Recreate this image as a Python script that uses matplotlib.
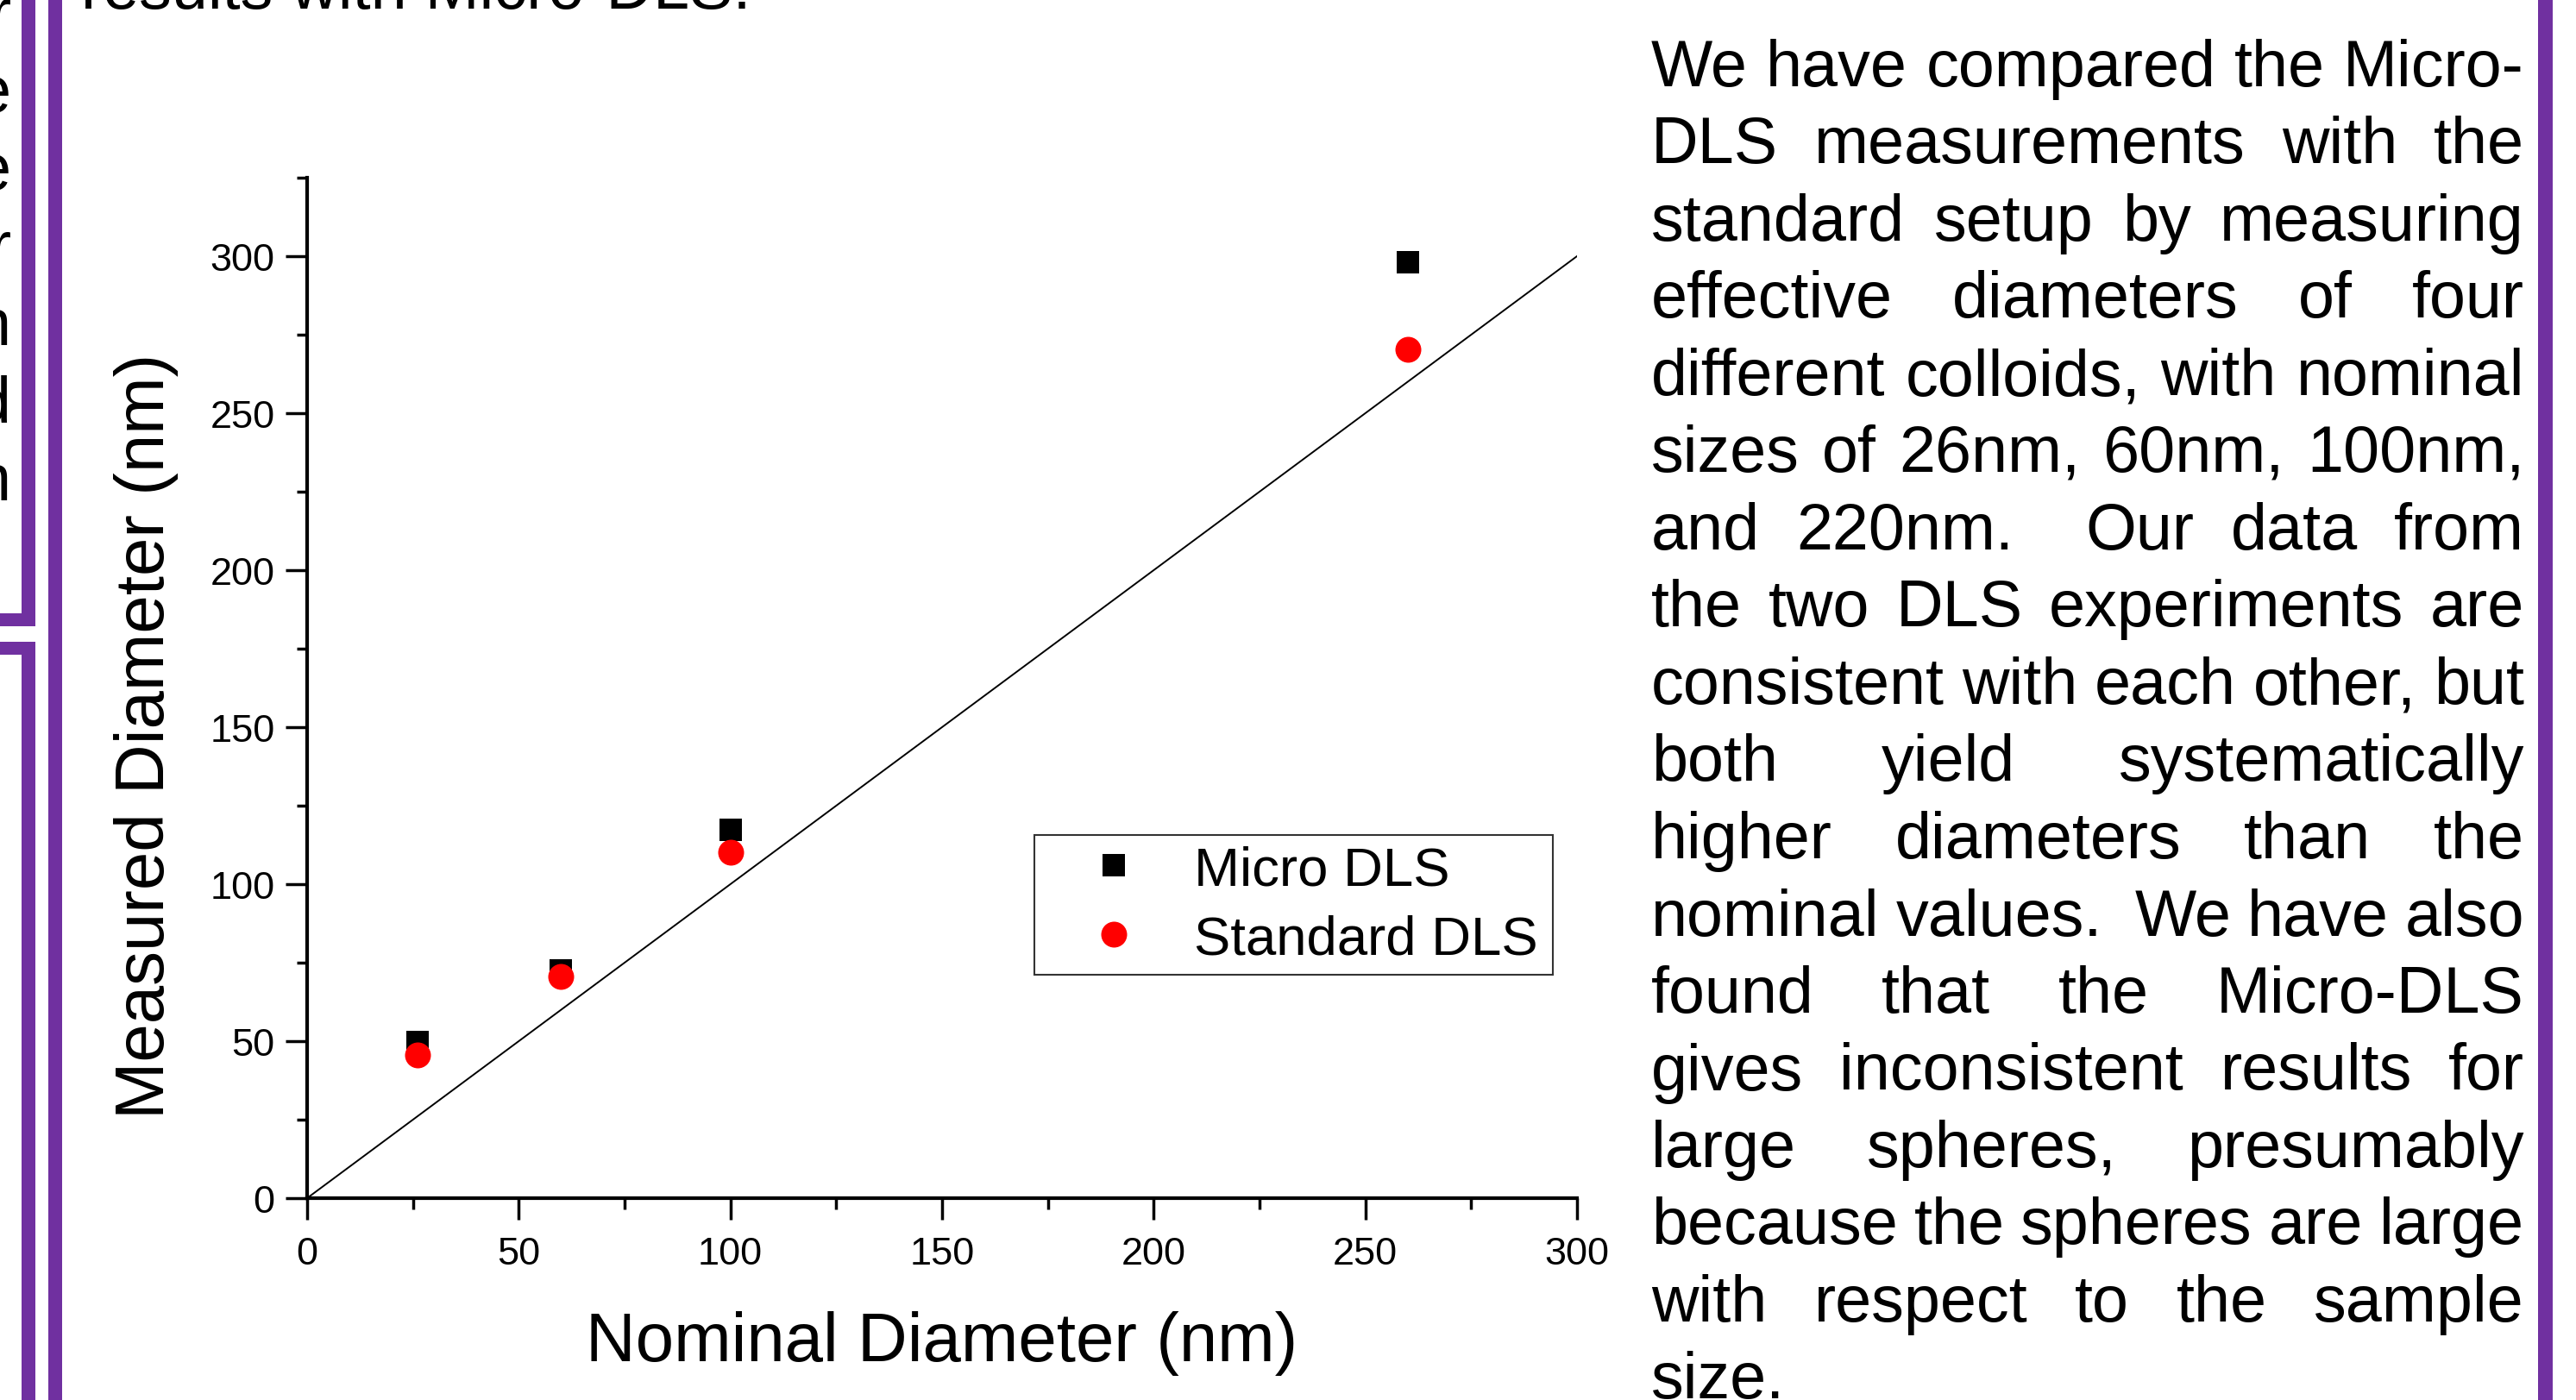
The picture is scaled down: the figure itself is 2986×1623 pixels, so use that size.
import re
import matplotlib
matplotlib.use('Agg')
import matplotlib.pyplot as plt
from matplotlib.patches import Rectangle
from matplotlib.ticker import MultipleLocator

plt.rcParams['font.family'] = ['Liberation Sans', 'DejaVu Sans']

# ---------------- data ----------------
nominal_diameter = [26, 60, 100, 260]
micro_dls = [49.6, 72.5, 117.2, 298.0]
standard_dls = [45.6, 70.6, 110.2, 270.3]
identity_x = [0, 300]
series_labels = ['Micro DLS', 'Standard DLS']
x_ticks = [0, 50, 100, 150, 200, 250, 300]
y_ticks = [0, 50, 100, 150, 200, 250, 300]
x_label = 'Nominal Diameter (nm)'
y_label = 'Measured Diameter (nm)'

paragraph_lines = [
    "We have compared the Micro-",
    "DLS measurements with the",
    "standard setup by measuring",
    "effective diameters of four",
    "different colloids, with nominal",
    "sizes of 26nm, 60nm, 100nm,",
    "and 220nm.  Our data from",
    "the two DLS experiments are",
    "consistent with each other, but",
    "both yield systematically",
    "higher diameters than the",
    "nominal values.  We have also",
    "found that the Micro-DLS",
    "gives inconsistent results for",
    "large spheres, presumably",
    "because the spheres are large",
    "with respect to the sample",
    "size.",
]
top_caption = "results with Micro-DLS."
left_column_tails = ["r", "e", "e", "r", "n", "d", "n"]

# ---------------- figure ----------------
W, H, DPI = 2986, 1624, 100
fig = plt.figure(figsize=(W / DPI, H / DPI), dpi=DPI)
fig.patch.set_facecolor('white')
PURPLE = '#7030A0'


def fx(x):
    return x / W


def fy(y):
    return 1 - y / H


def prect(x0, y0, x1, y1):
    fig.add_artist(Rectangle((fx(x0), fy(y1)), fx(x1) - fx(x0), fy(y0) - fy(y1),
                             transform=fig.transFigure, facecolor=PURPLE,
                             edgecolor='none', zorder=5))


# purple panel borders
prect(25, 0, 41, 727)
prect(0, 712, 41, 727)
prect(0, 745, 41, 760)
prect(25, 745, 41, H)
prect(56, 0, 72, H)
prect(2942, 0, 2959, H)

# axes
ax = fig.add_axes([fx(356), fy(1390), fx(1828) - fx(356), fy(207) - fy(1390)])
ax.plot(identity_x, identity_x, color='black', lw=1.4, zorder=2)
ax.plot(nominal_diameter, micro_dls, linestyle='none', marker='s', ms=18.5,
        mew=0, color='black', label=series_labels[0], zorder=3)
ax.plot(nominal_diameter, standard_dls, linestyle='none', marker='o', ms=21.6,
        mew=0, color='red', label=series_labels[1], zorder=4)

ax.set_xlim(0, 300)
ax.set_ylim(0, 325)
ax.spines['top'].set_visible(False)
ax.spines['right'].set_visible(False)
for s in ('left', 'bottom'):
    ax.spines[s].set_linewidth(3)
ax.set_xticks(x_ticks)
ax.set_yticks(y_ticks)
ax.xaxis.set_minor_locator(MultipleLocator(25))
ax.yaxis.set_minor_locator(MultipleLocator(25))
ax.tick_params(which='major', direction='out', length=18, width=2.5, labelsize=32.5)
ax.tick_params(which='minor', direction='out', length=9, width=2.5)
ax.tick_params(axis='y', which='major', pad=9)
ax.tick_params(axis='x', which='major', pad=14)
ax.set_xlabel(x_label, fontsize=57.5, labelpad=32)
ax.set_ylabel(y_label, fontsize=57.5, labelpad=26)
ax.yaxis.label.set_y(0.454)

leg = ax.legend(loc='upper left', bbox_to_anchor=(0.573, 0.219, 0.408, 0.137),
                mode='expand', borderaxespad=0, fontsize=45.7, frameon=True,
                fancybox=False, edgecolor='black', borderpad=0.18,
                handlelength=2.51, handletextpad=0.21, labelspacing=0.33,
                numpoints=1)
leg.get_frame().set_linewidth(1.5)

# ---------------- text ----------------
FS = 54.4
renderer = fig.canvas.get_renderer()


def width_of(s):
    t = fig.text(0, 0, s, fontsize=FS)
    w = t.get_window_extent(renderer).width
    t.remove()
    return w


left_x, right_x = 1914, 2926
base0, step = 100, 89.5
for i, line in enumerate(paragraph_lines):
    y = base0 + i * step
    if i == len(paragraph_lines) - 1:
        fig.text(fx(left_x), fy(y), line, fontsize=FS, va='baseline', ha='left')
        continue
    parts = re.split(r'( +)', line)
    words = parts[0::2]
    spaces = [len(s) for s in parts[1::2]]
    widths = [width_of(w) for w in words]
    per_space = (right_x - left_x - sum(widths)) / sum(spaces)
    x = left_x
    for k, (w, wd) in enumerate(zip(words, widths)):
        fig.text(fx(x), fy(y), w, fontsize=FS, va='baseline', ha='left')
        if k < len(spaces):
            x += wd + per_space * spaces[k]

fig.text(fx(94), fy(10), top_caption, fontsize=FS, va='baseline', ha='left')
for i, ch in enumerate(left_column_tails):
    fig.text(fx(13), fy(40 + i * 90), ch, fontsize=FS, va='baseline', ha='right')

fig.savefig('out.png', dpi=DPI)
